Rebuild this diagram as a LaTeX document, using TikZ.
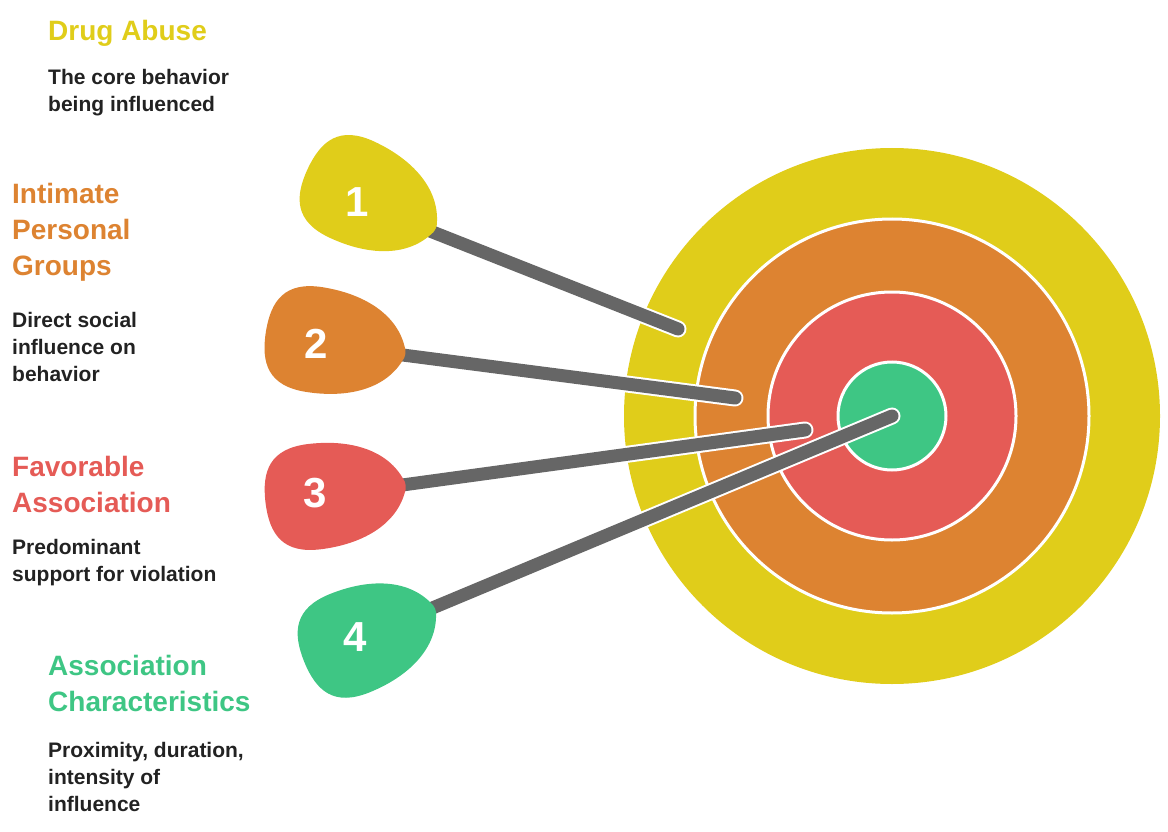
\documentclass[tikz,border=0pt]{standalone}
\usepackage{fontspec}
\setmainfont{Liberation Sans}
\usetikzlibrary{positioning}

\definecolor{ringYellow}{HTML}{E0CD1A}
\definecolor{ringOrange}{HTML}{DD8331}
\definecolor{ringRed}{HTML}{E55B56}
\definecolor{ringGreen}{HTML}{3EC684}
\definecolor{stickGray}{HTML}{666666}
\definecolor{textDark}{HTML}{222222}

\tikzset{
  ring/.style={draw=white, line width=3pt},
  stick/.style={draw=stickGray, line width=13pt, line cap=round,
    preaction={draw=white, line width=17pt, line cap=round}},
  title/.style={anchor=west, align=left, inner sep=0pt,
    font=\fontsize{28}{36}\selectfont\bfseries},
  body/.style={anchor=west, align=left, inner sep=0pt, text=textDark,
    font=\fontsize{21}{27}\selectfont\bfseries},
  num/.style={text=white, inner sep=0pt, font=\fontsize{42}{42}\selectfont\bfseries},
  dart head/.pic={
    \fill[#1] (68,-8) .. controls (55,-38) and (20,-53) .. (-22,-53)
      .. controls (-60,-53) and (-71,-32) .. (-71,0)
      .. controls (-71,32) and (-60,53) .. (-22,53)
      .. controls (20,53) and (55,38) .. (68,8)
      .. controls (71,3) and (71,-3) .. (68,-8) -- cycle;
  }
}

\begin{document}
\begin{tikzpicture}[x=1pt, y=-1pt]
  \useasboundingbox (0,0) rectangle (1168,832);

  % Target rings
  \coordinate (bull) at (892,416);
  \fill[ringYellow] (bull) circle (268);
  \filldraw[ring, fill=ringOrange] (bull) circle (197);
  \filldraw[ring, fill=ringRed] (bull) circle (124);
  \filldraw[ring, fill=ringGreen] (bull) circle (54);

  % Where the darts hit
  \coordinate (hit1) at (678,329);
  \coordinate (hit2) at (735,398);
  \coordinate (hit3) at (805,430);
  \coordinate (hit4) at (bull);

  % Stick ends hidden under the heads
  \coordinate (tip1) at (430,231);
  \coordinate (tip2) at (395,354);
  \coordinate (tip3) at (395,486);
  \coordinate (tip4) at (430,609);

  % Sticks
  \foreach \i in {1,2,4,3}
    \draw[stick] (tip\i) -- (hit\i);

  % Heads
  \pic[rotate=-25] at (372,199) {dart head=ringYellow};
  \pic[rotate=-9]  at (336,343) {dart head=ringOrange};
  \pic[rotate=7]   at (336,494) {dart head=ringRed};
  \pic[rotate=22]  at (370,635) {dart head=ringGreen};

  \node[num] (n1) at (357,202) {1};
  \node[num] (n2) at (316,344) {2};
  \node[num] (n3) at (315,493) {3};
  \node[num] (n4) at (355,637) {4};

  % Labels
  \node[title, text=ringYellow] (t1) at (48,33) {Drug Abuse};
  \node[body] (b1) at (48,93) {The core behavior\\being influenced};

  \node[title, text=ringOrange] (t2) at (12,232) {Intimate\\Personal\\Groups};
  \node[body] (b2) at (12,347) {Direct social\\influence on\\behavior};

  \node[title, text=ringRed] (t3) at (12,484) {Favorable\\Association};
  \node[body] (b3) at (12,563) {Predominant\\support for violation};

  \node[title, text=ringGreen] (t4) at (48,683) {Association\\Characteristics};
  \node[body] (b4) at (48,777) {Proximity, duration,\\intensity of\\influence};
\end{tikzpicture}
\end{document}
